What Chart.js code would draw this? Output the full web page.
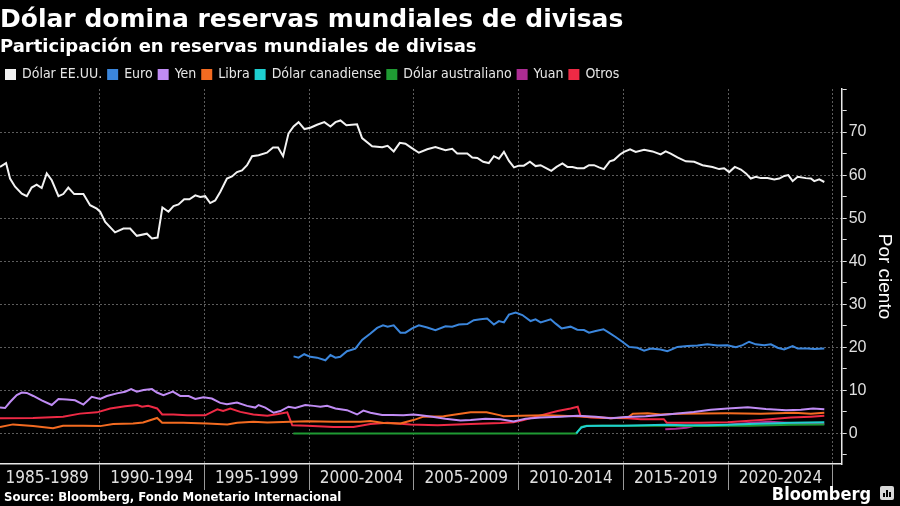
<!DOCTYPE html>
<html>
<head>
<meta charset="utf-8">
<script src="https://cdn.jsdelivr.net/npm/chart.js@4"></script>
<style>
  html, body { margin: 0; padding: 0; background: #000; }
  canvas { display: block; }
</style>
</head>
<body>
<canvas id="c" width="900" height="506"></canvas>
<script>
// ---------- DATA (year as decimal, quarter-end; value in %) ----------
const seriesNames = ['Dólar EE.UU.', 'Euro', 'Yen', 'Libra', 'Dólar canadiense', 'Dólar australiano', 'Yuan', 'Otros'];
const periodStarts = [1985, 1990, 1995, 2000, 2005, 2010, 2015, 2020];
const periodLabels = ['1985-1989', '1990-1994', '1995-1999', '2000-2004', '2005-2009', '2010-2014', '2015-2019', '2020-2024'];
const yTickLabels = [0, 10, 20, 30, 40, 50, 60, 70];

const usd = [[1985.25,61.9],[1985.54,62.8],[1985.73,59.2],[1985.97,57.3],[1986.29,55.7],[1986.53,55.1],[1986.76,57.1],[1987.0,57.8],[1987.24,57.0],[1987.48,60.4],[1987.72,58.8],[1988.04,55.1],[1988.27,55.6],[1988.51,57.1],[1988.79,55.6],[1989.23,55.6],[1989.55,53.0],[1989.87,52.2],[1990.03,51.5],[1990.27,49.1],[1990.74,46.7],[1991.14,47.6],[1991.46,47.6],[1991.78,45.9],[1992.26,46.4],[1992.5,45.3],[1992.77,45.5],[1993.0,52.5],[1993.29,51.5],[1993.53,52.8],[1993.77,53.2],[1994.04,54.4],[1994.29,54.4],[1994.57,55.3],[1994.81,54.9],[1995.04,55.1],[1995.28,53.5],[1995.52,54.1],[1995.76,56.1],[1996.08,59.2],[1996.32,59.7],[1996.56,60.7],[1996.8,61.1],[1997.04,62.3],[1997.28,64.4],[1997.59,64.6],[1997.99,65.2],[1998.28,66.4],[1998.52,66.4],[1998.76,64.4],[1999.02,69.7],[1999.26,71.3],[1999.5,72.3],[1999.78,70.7],[2000.06,71.0],[2000.38,71.7],[2000.73,72.3],[2001.02,71.3],[2001.26,72.3],[2001.5,72.7],[2001.78,71.6],[2002.29,71.8],[2002.53,68.6],[2003.01,66.7],[2003.49,66.5],[2003.75,66.8],[2004.04,65.5],[2004.33,67.5],[2004.6,67.3],[2004.87,66.4],[2005.24,65.2],[2005.64,66.0],[2006.03,66.5],[2006.51,65.8],[2006.83,66.1],[2007.07,65.0],[2007.55,65.0],[2007.79,64.1],[2008.03,64.0],[2008.31,63.1],[2008.58,62.8],[2008.82,64.4],[2009.06,63.8],[2009.3,65.4],[2009.54,63.3],[2009.78,61.8],[2010.01,62.2],[2010.25,62.2],[2010.54,63.1],[2010.81,62.1],[2011.05,62.3],[2011.29,61.7],[2011.56,61.0],[2011.81,61.9],[2012.09,62.7],[2012.33,61.9],[2012.57,61.9],[2012.8,61.6],[2013.12,61.6],[2013.36,62.3],[2013.6,62.3],[2013.84,61.8],[2014.07,61.4],[2014.35,63.2],[2014.55,63.5],[2014.84,64.8],[2015.03,65.4],[2015.32,66.0],[2015.59,65.4],[2015.99,65.9],[2016.39,65.5],[2016.78,64.8],[2017.02,65.5],[2017.26,65.0],[2017.58,64.1],[2017.98,63.2],[2018.38,63.1],[2018.78,62.3],[2019.25,61.9],[2019.57,61.4],[2019.81,61.6],[2020.05,60.7],[2020.32,61.9],[2020.61,61.3],[2020.85,60.4],[2021.08,59.2],[2021.32,59.6],[2021.56,59.3],[2021.88,59.3],[2022.2,59.0],[2022.44,59.2],[2022.68,59.8],[2022.87,60.0],[2023.08,58.6],[2023.32,59.6],[2023.71,59.3],[2023.95,59.2],[2024.11,58.6],[2024.35,59.0],[2024.59,58.4]];

const eur = [[1999.26,17.9],[1999.5,17.6],[1999.77,18.4],[2000.06,17.8],[2000.38,17.6],[2000.78,17.0],[2001.02,18.2],[2001.26,17.6],[2001.49,17.8],[2001.81,19.1],[2002.21,19.7],[2002.53,21.7],[2002.93,23.2],[2003.25,24.5],[2003.53,25.1],[2003.75,24.8],[2004.04,25.1],[2004.36,23.4],[2004.6,23.4],[2004.92,24.4],[2005.24,25.1],[2005.64,24.6],[2006.03,24.0],[2006.51,24.9],[2006.83,24.8],[2007.15,25.3],[2007.55,25.4],[2007.86,26.3],[2008.18,26.5],[2008.5,26.7],[2008.82,25.3],[2009.06,26.1],[2009.3,25.8],[2009.54,27.6],[2009.86,28.1],[2010.18,27.5],[2010.57,26.1],[2010.81,26.5],[2011.05,25.8],[2011.53,26.5],[2011.77,25.5],[2012.05,24.4],[2012.48,24.8],[2012.8,24.1],[2013.12,24.0],[2013.36,23.4],[2013.68,23.8],[2014.05,24.2],[2014.31,23.4],[2014.63,22.4],[2014.95,21.3],[2015.27,20.1],[2015.67,19.9],[2015.99,19.2],[2016.31,19.7],[2016.78,19.5],[2017.1,19.1],[2017.34,19.6],[2017.58,20.1],[2018.06,20.3],[2018.54,20.4],[2019.01,20.7],[2019.49,20.4],[2019.97,20.5],[2020.37,20.0],[2020.69,20.5],[2021.0,21.3],[2021.32,20.7],[2021.72,20.5],[2022.04,20.7],[2022.36,19.9],[2022.67,19.5],[2023.08,20.3],[2023.32,19.7],[2023.79,19.7],[2024.11,19.6],[2024.59,19.7]];

const jpy = [[1985.25,6.0],[1985.49,5.9],[1985.73,7.3],[1986.05,8.9],[1986.29,9.5],[1986.53,9.4],[1986.84,8.7],[1987.24,7.7],[1987.72,6.6],[1988.04,8.0],[1988.44,7.9],[1988.83,7.7],[1989.23,6.7],[1989.63,8.5],[1990.03,8.0],[1990.35,8.7],[1990.83,9.3],[1991.22,9.7],[1991.51,10.3],[1991.78,9.7],[1992.1,10.1],[1992.5,10.3],[1992.74,9.5],[1993.05,8.9],[1993.5,9.7],[1993.85,8.7],[1994.25,8.7],[1994.57,8.0],[1994.96,8.4],[1995.36,8.1],[1995.76,7.1],[1996.08,6.8],[1996.56,7.2],[1997.04,6.4],[1997.43,6.0],[1997.59,6.6],[1997.91,6.0],[1998.31,4.8],[1998.63,5.2],[1999.02,6.2],[1999.34,5.9],[1999.82,6.6],[2000.22,6.4],[2000.54,6.2],[2000.86,6.4],[2001.26,5.8],[2001.81,5.4],[2002.29,4.4],[2002.59,5.3],[2002.93,4.8],[2003.49,4.3],[2003.96,4.3],[2004.5,4.2],[2004.98,4.4],[2005.32,4.2],[2005.88,3.9],[2006.51,3.4],[2007.23,3.0],[2007.71,3.1],[2008.42,3.4],[2009.14,3.3],[2009.76,2.8],[2010.33,3.4],[2011.05,3.7],[2012.01,3.9],[2012.82,4.1],[2013.68,3.9],[2014.4,3.5],[2015.11,3.8],[2016.07,4.0],[2017.07,4.4],[2018.36,5.0],[2019.17,5.5],[2019.98,5.8],[2020.94,6.1],[2021.8,5.7],[2022.76,5.4],[2023.47,5.5],[2024.05,5.8],[2024.59,5.6]];

const gbp = [[1985.25,1.5],[1985.87,2.1],[1986.83,1.7],[1987.78,1.2],[1988.26,1.8],[1989.22,1.8],[1990.03,1.7],[1990.65,2.2],[1991.6,2.3],[1992.08,2.55],[1992.75,3.6],[1992.99,2.5],[1993.99,2.5],[1995.14,2.3],[1996.1,2.1],[1996.57,2.5],[1997.34,2.7],[1998.01,2.55],[1999.11,2.7],[1999.92,2.85],[2001.16,2.7],[2002.45,2.7],[2002.93,2.9],[2003.55,2.4],[2004.36,2.3],[2004.98,3.1],[2005.46,3.9],[2006.42,4.0],[2007.71,4.9],[2008.47,4.9],[2009.14,4.2],[2009.28,4.0],[2010.09,4.1],[2011.29,4.2],[2012.72,4.0],[2013.44,3.8],[2014.4,3.5],[2015.21,3.7],[2015.45,4.6],[2016.16,4.7],[2016.78,4.4],[2017.6,4.6],[2019.98,4.7],[2021.56,4.6],[2023.14,4.8],[2023.95,4.6],[2024.59,4.8]];

const cad = [[2012.75,0],[2013.0,1.4],[2013.25,1.7],[2014.0,1.8],[2015.0,1.8],[2016.0,1.9],[2017.0,2.0],[2018.0,1.9],[2019.0,1.9],[2020.0,2.0],[2021.0,2.2],[2022.0,2.3],[2023.0,2.5],[2024.59,2.6]];

const aud = [[1999.25,0],[2012.75,0],[2013.0,1.5],[2013.25,1.8],[2014.0,1.8],[2015.0,1.8],[2016.0,1.8],[2017.0,1.8],[2018.0,1.7],[2019.0,1.7],[2020.0,1.8],[2021.0,1.8],[2022.0,1.9],[2023.0,2.0],[2024.59,2.1]];

const cny = [[2017.0,1.0],[2017.5,1.1],[2018.0,1.3],[2018.4,1.8],[2019.0,1.9],[2020.0,2.0],[2021.0,2.4],[2022.0,2.7],[2023.0,2.4],[2024.59,2.2]];

const otros = [[1985.25,3.5],[1986.83,3.6],[1988.26,3.9],[1989.07,4.6],[1989.88,4.9],[1990.51,5.8],[1991.22,6.3],[1991.8,6.6],[1992.03,6.2],[1992.32,6.4],[1992.75,5.8],[1992.99,4.4],[1993.52,4.4],[1994.18,4.2],[1995.04,4.2],[1995.62,5.6],[1995.9,5.2],[1996.24,5.8],[1996.72,5.0],[1997.34,4.4],[1998.01,4.1],[1998.53,4.5],[1998.96,4.9],[1999.2,1.9],[1999.92,1.8],[2001.16,1.5],[2002.12,1.5],[2002.93,2.2],[2003.74,2.5],[2004.84,2.1],[2006.13,1.9],[2007.71,2.2],[2009.14,2.4],[2009.76,2.6],[2010.24,3.1],[2011.05,4.2],[2011.86,5.2],[2012.48,5.8],[2012.82,6.2],[2012.96,4.0],[2013.44,3.7],[2015.21,3.5],[2015.83,3.3],[2016.93,3.3],[2017.07,2.5],[2018.69,2.5],[2019.98,2.6],[2021.56,3.1],[2022.99,3.7],[2023.95,3.9],[2024.59,4.1]];

const seriesData = [usd, eur, jpy, gbp, cad, aud, cny, otros];
const seriesColors = ['#f2f2f2', '#3b86dc', '#c08cf4', '#f36b21', '#1ecfd0', '#1f9a33', '#ad2c93', '#ee2a45'];

// ---------- CHART ----------
const xMin = 1985.25, xMax = 2025.42, yMin = -7.1, yMax = 80;
const xTickValues = [];
for (let v = 1987.5; v <= 2025; v += 2.5) xTickValues.push(v);
const yTickValues = [];
for (let v = -5; v <= 80; v += 5) yTickValues.push(v);

const narrow = '"Liberation Sans Narrow", "DejaVu Sans Condensed", sans-serif';

const datasets = seriesNames.map((name, i) => ({
  label: name,
  data: seriesData[i].map(p => ({ x: p[0], y: p[1] })),
  borderColor: seriesColors[i],
  backgroundColor: seriesColors[i],
  borderWidth: 2,
  pointRadius: 0,
  tension: 0,
  fill: false
}));

const bgPlugin = {
  id: 'bg',
  beforeDraw(chart) {
    const c = chart.ctx;
    c.save(); c.fillStyle = '#000'; c.fillRect(0, 0, chart.width, chart.height); c.restore();
  }
};

const legendSizer = {
  id: 'legendSizer',
  beforeInit(chart) {
    const lg = chart.legend;
    if (!lg) return;
    const orig = lg.fit;
    lg.fit = function () { orig.call(this); this.height = 27.4; };
  }
};

const footer = {
  id: 'footer',
  afterDraw(chart) {
    const c = chart.ctx;
    c.save();
    c.fillStyle = '#ffffff';
    c.textBaseline = 'alphabetic';
    c.textAlign = 'left';
    c.font = 'bold 13px "DejaVu Sans Condensed", "DejaVu Sans", sans-serif';
    c.fillText('Source: Bloomberg, Fondo Monetario Internacional', 4, 501);
    c.textAlign = 'right';
    c.font = 'bold 18px ' + narrow;
    c.fillText('Bloomberg', 871, 500);
    // small logo square
    c.fillStyle = '#d8d8d8';
    const lx = 880, ly = 486, s = 14, r = 2;
    c.beginPath();
    c.moveTo(lx + r, ly); c.lineTo(lx + s - r, ly); c.quadraticCurveTo(lx + s, ly, lx + s, ly + r);
    c.lineTo(lx + s, ly + s - r); c.quadraticCurveTo(lx + s, ly + s, lx + s - r, ly + s);
    c.lineTo(lx + r, ly + s); c.quadraticCurveTo(lx, ly + s, lx, ly + s - r);
    c.lineTo(lx, ly + r); c.quadraticCurveTo(lx, ly, lx + r, ly);
    c.fill();
    c.fillStyle = '#000';
    c.fillRect(lx + 3, ly + 7, 2, 4);
    c.fillRect(lx + 6, ly + 4, 2, 7);
    c.fillRect(lx + 9, ly + 6, 2, 5);
    c.restore();
  }
};

new Chart(document.getElementById('c'), {
  type: 'line',
  data: { datasets },
  plugins: [bgPlugin, legendSizer, footer],
  options: {
    responsive: false,
    animation: false,
    devicePixelRatio: 1,
    layout: { padding: { top: 0, left: 0, right: 0, bottom: 0 } },
    plugins: {
      tooltip: { enabled: false },
      title: {
        display: true,
        text: 'Dólar domina reservas mundiales de divisas',
        align: 'start',
        color: '#ffffff',
        font: { family: '"DejaVu Sans", sans-serif', size: 25, weight: 'bold', lineHeight: 1.2 },
        padding: { top: 5, bottom: 0 }
      },
      subtitle: {
        display: true,
        text: 'Participación en reservas mundiales de divisas',
        align: 'start',
        color: '#ffffff',
        font: { family: '"DejaVu Sans", sans-serif', size: 18, weight: 'bold', lineHeight: 1.2 },
        padding: { top: 2, bottom: 3 }
      },
      legend: {
        display: true,
        align: 'start',
        labels: {
          color: '#e6e6e6',
          boxWidth: 9,
          boxHeight: 9,
          padding: 6,
          font: { family: narrow, size: 14 }
        }
      }
    },
    scales: {
      x: {
        type: 'linear',
        min: xMin,
        max: xMax,
        afterBuildTicks(scale) { scale.ticks = xTickValues.map(v => ({ value: v })); },
        afterFit(scale) { scale.height = 42; scale.paddingLeft = 0; scale.paddingRight = 0; },
        ticks: {
          autoSkip: false,
          maxRotation: 0,
          minRotation: 0,
          color: '#e0e0e0',
          font: { family: narrow, size: 17 },
          padding: -22,
          callback(value) {
            const i = periodStarts.indexOf(value - 2.5);
            return i >= 0 ? periodLabels[i] : '';
          }
        },
        grid: {
          drawOnChartArea: true,
          color: ctx => (ctx.tick && ctx.tick.value % 5 === 0) ? '#5c5c5c' : 'rgba(0,0,0,0)',
          tickColor: ctx => (ctx.tick && ctx.tick.value % 5 === 0) ? '#9a9a9a' : 'rgba(0,0,0,0)',
          tickLength: 26,
          lineWidth: 1
        },
        border: { display: true, color: '#e8e8e8', width: 1.5, dash: [2, 2] }
      },
      y: {
        type: 'linear',
        position: 'right',
        min: yMin,
        max: yMax,
        afterBuildTicks(scale) { scale.ticks = yTickValues.map(v => ({ value: v })); },
        afterFit(scale) { scale.width = 58.3; scale.paddingTop = 0; scale.paddingBottom = 0; },
        ticks: {
          autoSkip: false,
          color: '#e0e0e0',
          font: { family: '"Liberation Sans", sans-serif', size: 16 },
          padding: 2,
          callback(value) { return yTickLabels.includes(value) ? String(value) : ''; }
        },
        grid: {
          color: ctx => (ctx.tick && yTickLabels.includes(ctx.tick.value)) ? '#5c5c5c' : 'rgba(0,0,0,0)',
          tickColor: '#e0e0e0',
          tickLength: 5,
          lineWidth: 1
        },
        border: { display: true, color: '#e8e8e8', width: 1.5, dash: [2, 2] },
        title: {
          display: true,
          text: 'Por ciento',
          color: '#ffffff',
          font: { family: '"Liberation Sans", sans-serif', size: 19 },
          padding: { top: 4, bottom: 0 }
        }
      }
    }
  }
});
</script>
</body>
</html>
